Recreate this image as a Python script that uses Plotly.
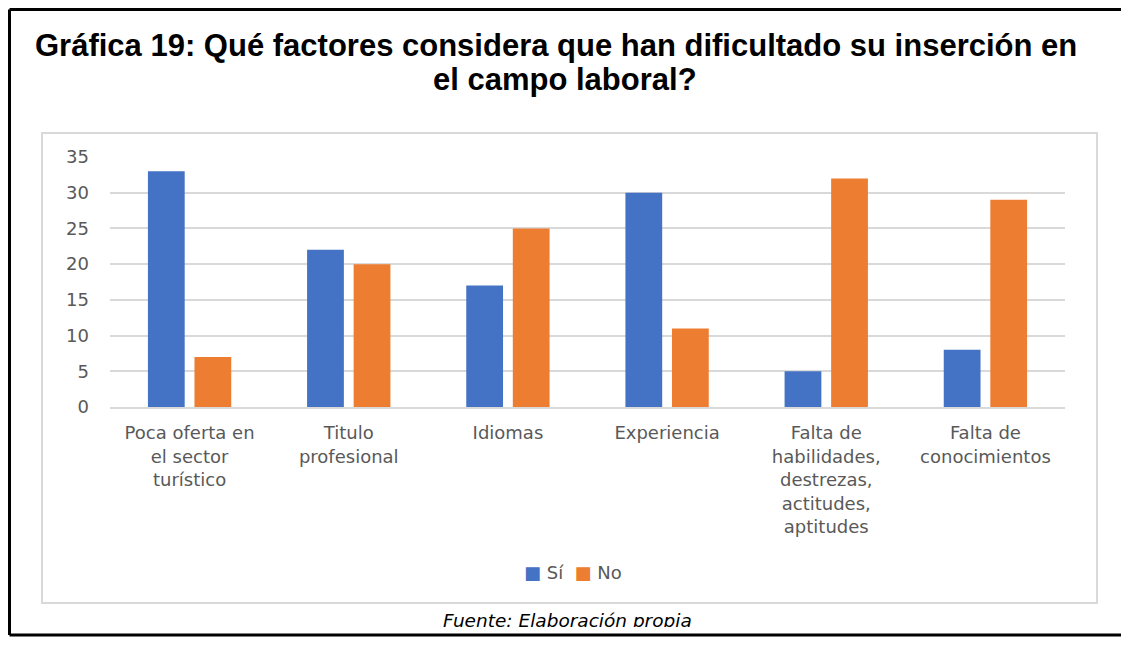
import plotly.graph_objects as go

categorias = [
    "Poca oferta en<br>el sector<br>turístico",
    "Titulo<br>profesional",
    "Idiomas",
    "Experiencia",
    "Falta de<br>habilidades,<br>destrezas,<br>actitudes,<br>aptitudes",
    "Falta de<br>conocimientos",
]
si = [33, 22, 17, 30, 5, 8]
no = [7, 20, 25, 11, 32, 29]
y_ticks = [0, 5, 10, 15, 20, 25, 30, 35]

OFF = 8  # page body margin; keep the figure inside the window so no scrollbar shows
W, H = 1130 - 2 * OFF, 645 - 2 * OFF
L, R, T, B = 110, 1065, 157, 407  # plot area, screen pixels
RIGHT_EDGE = OFF + W - 1


def px(x):
    return (x - L) / (R - L)


def py(y):
    return (B - y) / (B - T)


fig = go.Figure()
fig.add_trace(go.Bar(x=categorias, y=si, name="Sí", marker=dict(color="#4472C4", line=dict(width=0))))
fig.add_trace(go.Bar(x=categorias, y=no, name="No", marker=dict(color="#ED7D31", line=dict(width=0))))

shapes = [
    # inner chart frame
    dict(type="rect", xref="paper", yref="paper", x0=px(42), x1=px(1097), y0=py(133), y1=py(603),
         line=dict(color="#D9D9D9", width=2), layer="below"),
    # outer black border (no right side)
    dict(type="line", xref="paper", yref="paper", x0=px(9.5), x1=px(RIGHT_EDGE), y0=py(9.5), y1=py(9.5),
         line=dict(color="black", width=3)),
    dict(type="line", xref="paper", yref="paper", x0=px(9.5), x1=px(9.5), y0=py(9.5), y1=py(635),
         line=dict(color="black", width=3)),
    dict(type="line", xref="paper", yref="paper", x0=px(9.5), x1=px(RIGHT_EDGE), y0=py(635), y1=py(635),
         line=dict(color="black", width=3)),
]

title_font = dict(family="Liberation Sans", size=31, color="black")
annotations = [
    dict(text="<b>Gráfica 19: Qué factores considera que han dificultado su inserción en</b>",
         xref="paper", yref="paper", x=px(556), y=py(45), xanchor="center", yanchor="middle",
         showarrow=False, font=title_font),
    dict(text="<b>el campo laboral?</b>",
         xref="paper", yref="paper", x=px(565), y=py(80), xanchor="center", yanchor="middle",
         showarrow=False, font=title_font),
    # legend
    dict(text="<span style='color:#4472C4'>■</span> Sí  <span style='color:#ED7D31'>■</span> No",
         xref="paper", yref="paper", x=px(573), y=py(572), xanchor="center", yanchor="middle",
         showarrow=False, font=dict(family="DejaVu Sans", size=18, color="#595959")),
    dict(text="<i>Fuente: Elaboración propia</i>",
         xref="paper", yref="paper", x=px(567), y=py(620), xanchor="center", yanchor="middle",
         showarrow=False, font=dict(family="DejaVu Sans", size=18.5, color="black")),
    # bottom of the caption is cut off in the source
    dict(text=" ", xref="paper", yref="paper", x=px(567), y=py(627), xanchor="center", yanchor="top",
         showarrow=False, width=330, height=4, bgcolor="white", borderpad=0, borderwidth=0,
         font=dict(size=3)),
]

fig.update_layout(
    width=W, height=H,
    margin=dict(l=L - OFF, r=W - (R - OFF), t=T - OFF, b=H - (B - OFF)),
    paper_bgcolor="white", plot_bgcolor="white",
    barmode="group", bargap=0.415, bargroupgap=0.21,
    showlegend=False,
    font=dict(family="DejaVu Sans", size=18, color="#595959"),
    xaxis=dict(showgrid=False, showline=True, linecolor="#D9D9D9", linewidth=1.5,
               ticks="", tickfont=dict(size=18, color="#595959"), tickangle=0,
               ticklabelstandoff=9),
    yaxis=dict(range=[0, 35], tickvals=y_ticks, showgrid=True, gridcolor="#D9D9D9", gridwidth=1.5,
               zeroline=False, showline=False, ticks="", ticklabelstandoff=20,
               tickfont=dict(size=18, color="#595959")),
    shapes=shapes,
    annotations=annotations,
)

fig.write_html("out.html")
